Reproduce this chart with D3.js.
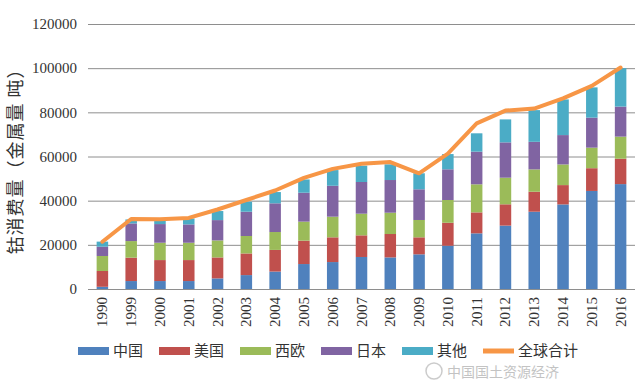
<!DOCTYPE html>
<html>
<head>
<meta charset="utf-8">
<script src="https://cdn.jsdelivr.net/npm/d3@7"></script>
<style>
  body { margin: 0; background: #fff; }
  svg { display: block; }
</style>
</head>
<body>
<svg id="chart" width="640" height="388"></svg>
<script>
// Years on the x axis
const years = ["1990", "1999", "2000", "2001", "2002", "2003", "2004", "2005", "2006", "2007",
               "2008", "2009", "2010", "2011", "2012", "2013", "2014", "2015", "2016"];

// Stacked series (tonnes of cobalt metal)
const china  = [1000, 3600, 3600, 3600, 4800, 6300, 7900, 11300, 12200, 14500,
                14300, 15700, 19600, 25200, 28700, 35000, 38300, 44400, 47500];
const usa    = [7150, 10600, 9500, 9500, 9500, 9800, 9800, 10600, 11200, 9800,
                10600, 7700, 10400, 9500, 9650, 9050, 8750, 10300, 11500];
const westEu = [6800, 7500, 7850, 7850, 7700, 7900, 8100, 8600, 9350, 9800,
                9650, 7850, 10300, 12700, 12050, 10100, 9350, 9300, 10000];
const japan  = [4200, 8000, 8450, 8300, 9200, 11000, 13000, 13100, 14000, 14350,
                14800, 13900, 13900, 14800, 16000, 12500, 13300, 13600, 13600];
const other  = [2300, 1800, 1800, 2700, 4100, 4500, 5100, 6000, 7100, 7400,
                7100, 7250, 6900, 8300, 10400, 14350, 16150, 13700, 17400];
// Global total line
const globalTotal = [21400, 31700, 31600, 32200, 36000, 40300, 44600, 50300, 54400, 56700,
                     57500, 52400, 61300, 75000, 80800, 81700, 86300, 92000, 100300];

const seriesNames = ["中国", "美国", "西欧", "日本", "其他"];
const seriesColors = ["#4F81BD", "#C0504D", "#9BBB59", "#8064A2", "#4BACC6"];
const lineName = "全球合计";
const lineColor = "#F79646";
const yTicks = [0, 20000, 40000, 60000, 80000, 100000, 120000];

const svg = d3.select("#chart");
const margin = { left: 88, right: 635, top: 24, bottom: 289 };

const x = d3.scaleBand().domain(years).range([margin.left, margin.right]).paddingInner(0.6).paddingOuter(0.3);
const xc = d3.scalePoint().domain(years).range([margin.left, margin.right]).padding(0.5);
const y = d3.scaleLinear().domain([0, 120000]).range([margin.bottom, margin.top]);

// Gridlines
svg.append("g")
  .selectAll("line")
  .data(yTicks)
  .join("line")
  .attr("x1", margin.left)
  .attr("x2", margin.right)
  .attr("y1", d => y(d) + 0.5)
  .attr("y2", d => y(d) + 0.5)
  .attr("stroke", "#8e8e8e")
  .attr("stroke-width", 1);

// Y axis labels
svg.append("g")
  .attr("transform", `translate(${margin.left},0)`)
  .call(d3.axisLeft(y).tickValues(yTicks).tickSize(0).tickPadding(11).tickFormat(d3.format("d")))
  .call(g => g.select(".domain").remove())
  .call(g => g.selectAll("text")
    .attr("font-family", "'Liberation Serif', 'Times New Roman', serif")
    .attr("font-size", 15)
    .attr("fill", "#333"));

// Stacked bars
const rows = years.map((yr, i) => ({
  year: yr, s0: china[i], s1: usa[i], s2: westEu[i], s3: japan[i], s4: other[i]
}));
const stack = d3.stack().keys(["s0", "s1", "s2", "s3", "s4"])(rows);

svg.append("g")
  .selectAll("g")
  .data(stack)
  .join("g")
  .attr("fill", (d, i) => seriesColors[i])
  .selectAll("rect")
  .data(d => d)
  .join("rect")
  .attr("x", d => x(d.data.year))
  .attr("width", x.bandwidth())
  .attr("y", d => y(d[1]))
  .attr("height", d => y(d[0]) - y(d[1]));

// Total line
const line = d3.line()
  .x((d, i) => xc(years[i]))
  .y(d => y(d));

svg.append("path")
  .datum(globalTotal)
  .attr("fill", "none")
  .attr("stroke", lineColor)
  .attr("stroke-width", 4)
  .attr("stroke-linejoin", "round")
  .attr("stroke-linecap", "round")
  .attr("d", line);

// X axis labels (rotated)
svg.append("g")
  .selectAll("text")
  .data(years)
  .join("text")
  .attr("transform", d => `translate(${xc(d) + 5},${margin.bottom + 8}) rotate(-90)`)
  .attr("text-anchor", "end")
  .attr("font-family", "'Liberation Serif', 'Times New Roman', serif")
  .attr("font-size", 15)
  .attr("fill", "#333")
  .text(d => d);

// Y axis title
svg.append("text")
  .attr("transform", `translate(22,157) rotate(-90)`)
  .attr("text-anchor", "middle")
  .attr("font-family", "'Noto Sans CJK SC', sans-serif")
  .attr("font-size", 18)
  .attr("letter-spacing", 1)
  .attr("fill", "#333")
  .text("钴消费量（金属量 吨）");

// Legend
const legendItems = seriesNames.map((n, i) => ({ name: n, color: seriesColors[i], type: "rect" }))
  .concat([{ name: lineName, color: lineColor, type: "line" }]);

const legend = svg.append("g")
  .selectAll("g")
  .data(legendItems)
  .join("g")
  .attr("transform", (d, i) => `translate(${78 + i * 81},351)`);

legend.filter(d => d.type === "rect")
  .append("rect")
  .attr("x", 0)
  .attr("y", -4)
  .attr("width", 31)
  .attr("height", 8)
  .attr("fill", d => d.color);

legend.filter(d => d.type === "line")
  .append("line")
  .attr("x1", 0)
  .attr("x2", 31)
  .attr("y1", 0)
  .attr("y2", 0)
  .attr("stroke", d => d.color)
  .attr("stroke-width", 5);

legend.append("text")
  .attr("x", 35)
  .attr("y", 0)
  .attr("dy", "0.35em")
  .attr("font-family", "'Noto Sans CJK SC', sans-serif")
  .attr("font-size", 15)
  .attr("fill", "#333")
  .text(d => d.name);

// Watermark (faint, lower right, below the legend)
const wm = svg.append("g").attr("opacity", 0.5);
wm.append("circle")
  .attr("cx", 434).attr("cy", 371).attr("r", 8)
  .attr("fill", "none").attr("stroke", "#999").attr("stroke-width", 1.5);
wm.append("text")
  .attr("x", 447)
  .attr("y", 377)
  .attr("font-family", "'Noto Sans CJK SC', sans-serif")
  .attr("font-size", 14)
  .attr("fill", "#888")
  .text("中国国土资源经济");
</script>
</body>
</html>
